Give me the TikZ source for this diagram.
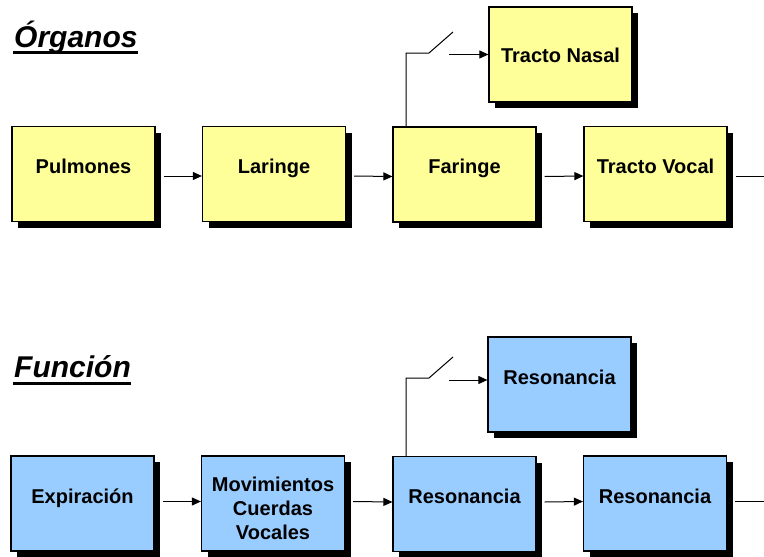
\documentclass[tikz,border=0pt]{standalone}
\usepackage{fontspec}
\setmainfont{Liberation Sans}
\usetikzlibrary{arrows.meta,shadows}
\definecolor{boxyellow}{HTML}{FFFF99}
\definecolor{boxblue}{HTML}{99CCFF}
\begin{document}
\begin{tikzpicture}[x=1pt,y=-1pt,
  blk/.style={draw=black,line width=1.2pt,minimum width=143pt,minimum height=95pt,inner sep=0pt,
    general shadow={fill=black,shadow xshift=6pt,shadow yshift=-6pt}},
  yel/.style={blk,fill=boxyellow},
  blu/.style={blk,fill=boxblue},
  lbl/.style={font=\fontsize{20}{24}\selectfont\bfseries,anchor=base,inner sep=0pt,align=center},
  ttl/.style={font=\fontsize{30}{34}\selectfont\bfseries\itshape,anchor=base west,inner sep=0pt},
  arr/.style={line width=1pt,-{Triangle[length=9pt,width=8pt]}},
  ln/.style={line width=1pt}]
\useasboundingbox (0,0) rectangle (764,557);
% titles
\node[ttl] (t1) at (14,47) {Órganos};
\draw[line width=3pt] (13,52.5) -- (138,52.5);
\node[ttl] (t2) at (14,377) {Función};
\draw[line width=3pt] (13,383) -- (131,383);
% top row boxes
\node[yel] (P) at (83.5,174) {};
\node[yel] (L) at (274,174) {};
\node[yel] (F) at (464.5,174.5) {};
\node[yel] (TV) at (655.5,174) {};
\node[yel] (TN) at (560.5,54.5) {};
\node[lbl] (Pt) at (83.5,173) {Pulmones};
\node[lbl] (Lt) at (274,173) {Laringe};
\node[lbl] (Ft) at (464.5,173) {Faringe};
\node[lbl] (TVt) at (655.5,173) {Tracto Vocal};
\node[lbl] (TNt) at (560.5,62) {Tracto Nasal};
% bottom row boxes
\node[blu] (E) at (82.5,503.5) {};
\node[blu] (M) at (273,503.5) {};
\node[blu] (R1) at (464.5,504) {};
\node[blu] (R3) at (655,503.5) {};
\node[blu] (R2) at (559.5,384.5) {};
\node[lbl] (Et) at (82.5,503) {Expiración};
\node[lbl,anchor=center] (Mt) at (273,508) {Movimientos\\Cuerdas\\Vocales};
\node[lbl] (R1t) at (464.5,503) {Resonancia};
\node[lbl] (R3t) at (655,503) {Resonancia};
\node[lbl] (R2t) at (559.5,384) {Resonancia};
% top connectors
\draw[arr] ([xshift=8pt,yshift=-2pt]P.east) -- ([yshift=-2pt]L.west);
\draw[arr] ([xshift=8pt,yshift=-2pt]L.east) -- ([yshift=-2pt]F.west);
\draw[arr] ([xshift=8pt,yshift=-2pt]F.east) -- ([yshift=-2pt]TV.west);
\coordinate (e1) at (764,176);
\draw[ln] ([xshift=8pt,yshift=-2pt]TV.east) -- (e1);
\coordinate (a1) at (406,53);
\coordinate (b1) at (429,53);
\coordinate (c1) at (453,32);
\coordinate (d1) at (449,54.5);
\draw[ln] (F.north -| a1) -- (a1) -- (b1) -- (c1);
\draw[arr] (d1) -- (d1 -| TN.west);
% bottom connectors
\draw[arr] ([xshift=8pt,yshift=2pt]E.east) -- ([yshift=2pt]M.west);
\draw[arr] ([xshift=8pt,yshift=2pt]M.east) -- ([yshift=2pt]R1.west);
\draw[arr] ([xshift=8pt,yshift=2pt]R1.east) -- ([yshift=2pt]R3.west);
\coordinate (e2) at (764,501.5);
\draw[ln] ([xshift=8pt,yshift=2pt]R3.east) -- (e2);
\coordinate (a2) at (406,378);
\coordinate (b2) at (429,378);
\coordinate (c2) at (453,357);
\coordinate (d2) at (449,380);
\draw[ln] (R1.north -| a2) -- (a2) -- (b2) -- (c2);
\draw[arr] (d2) -- (d2 -| R2.west);
\end{tikzpicture}
\end{document}
